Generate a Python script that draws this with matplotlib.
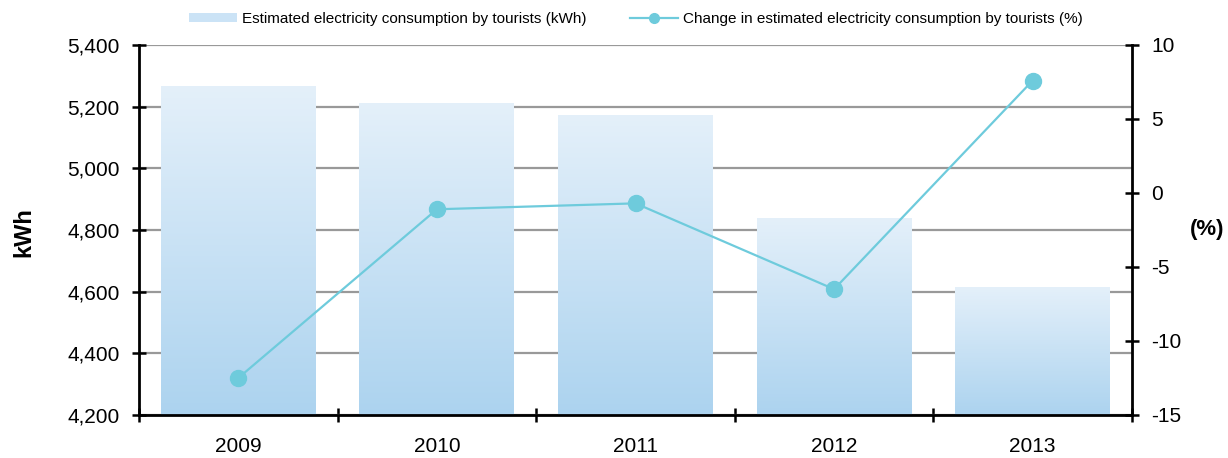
import matplotlib
matplotlib.use('Agg')
import matplotlib.pyplot as plt
import numpy as np
from matplotlib.patches import Patch
from matplotlib.lines import Line2D

# data
years = ['2009', '2010', '2011', '2012', '2013']
consumption = [5267, 5209, 5170, 4836, 4612]   # kWh
change = [-12.5, -1.1, -0.7, -6.5, 7.6]         # %

plt.rcParams['font.family'] = ['Liberation Sans', 'DejaVu Sans']
plt.rcParams['axes.unicode_minus'] = False

bar_top = '#e4f0fa'
bar_bot = '#acd3ef'
line_col = '#6ecbdc'

fig = plt.figure(figsize=(12.28, 4.58), dpi=100)
ax = fig.add_axes([139/1228, 1 - 415/458, (1132 - 139)/1228, (415 - 45)/458])

x = np.arange(len(years))
bars = ax.bar(x, consumption, width=0.78, bottom=0, color='none', edgecolor='none')
ax.set_ylim(4200, 5400)
ax.set_xlim(-0.5, len(years) - 0.5)

# gradient fill for each bar
grad = np.linspace(0, 1, 256).reshape(-1, 1)
cmap = matplotlib.colors.LinearSegmentedColormap.from_list('g', [bar_bot, bar_top])
for r in bars:
    x0 = r.get_x()
    x1 = x0 + r.get_width()
    top = r.get_height()
    ax.imshow(grad, extent=(x0, x1, 4200, top), origin='lower', aspect='auto',
              cmap=cmap, zorder=1, interpolation='bicubic')
ax.set_aspect('auto')

ax.set_yticks(np.arange(4200, 5401, 200))
ax.set_yticklabels(['{:,}'.format(v) for v in range(4200, 5401, 200)])
ax.yaxis.grid(True, color='#999999', linewidth=1.6)
ax.set_axisbelow(True)

ax.set_xticks(np.arange(-0.5, len(years), 1.0))
ax.set_xticklabels([])
ax.set_xticks(x, minor=True)
ax.set_xticklabels(years, minor=True)
ax.tick_params(axis='x', which='minor', length=0, pad=16, labelsize=15)
ax.tick_params(axis='x', which='major', direction='inout', length=10, width=1.8)
ax.tick_params(axis='y', direction='inout', length=10, width=1.8, pad=9, labelsize=15)

for s in ['top', 'right']:
    ax.spines[s].set_visible(False)
for s in ['left', 'bottom']:
    ax.spines[s].set_linewidth(2)

ax2 = ax.twinx()
ax2.plot(x, change, color=line_col, linewidth=1.6, marker='o', markersize=11.5,
         zorder=3)
ax2.set_ylim(-15, 10)
ax2.set_yticks(np.arange(-15, 11, 5))
ax2.tick_params(axis='y', direction='inout', length=10, width=1.8, pad=9, labelsize=15)
for s in ['top', 'left', 'bottom']:
    ax2.spines[s].set_visible(False)
ax2.spines['right'].set_linewidth(2)

fig.text(24/1228, 1 - 232/458, 'kWh', rotation=90, fontsize=17, fontweight='bold',
         ha='center', va='center')
fig.text(1207/1228, 1 - 230/458, '(%)', fontsize=16, fontweight='bold',
         ha='center', va='center')

handles = [Patch(facecolor='#cbe3f6', edgecolor='none'),
           Line2D([], [], color=line_col, linewidth=1.6, marker='o', markersize=7)]
labels = ['Estimated electricity consumption by tourists (kWh)',
          'Change in estimated electricity consumption by tourists (%)']
fig.legend(handles, labels, loc='center', bbox_to_anchor=(636/1228, 1 - 19/458),
           ncol=2, frameon=False, fontsize=11, handlelength=3.15, handleheight=0.6,
           handletextpad=0.35, columnspacing=2.8)

fig.savefig('out.png', dpi=100)
